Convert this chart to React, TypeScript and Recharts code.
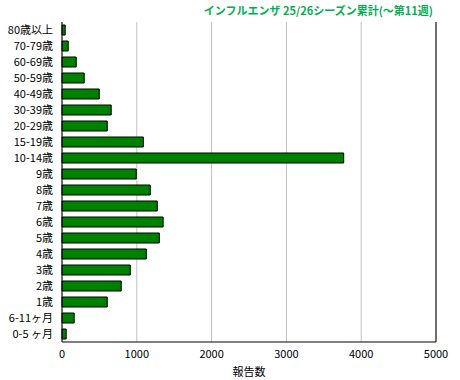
import React from "react";
import { BarChart, Bar, XAxis, YAxis, CartesianGrid, ReferenceLine } from "recharts";

const categories = [
  "80歳以上", "70-79歳", "60-69歳", "50-59歳", "40-49歳", "30-39歳", "20-29歳",
  "15-19歳", "10-14歳", "9歳", "8歳", "7歳", "6歳", "5歳", "4歳", "3歳", "2歳",
  "1歳", "6-11ヶ月", "0-5 ヶ月",
];
const reports = [
  43, 83, 190, 297, 498, 658, 605, 1087, 3766, 993, 1180, 1274, 1352, 1301, 1127,
  913, 792, 605, 163, 56,
];
const xTicks = [0, 1000, 2000, 3000, 4000, 5000];
const title = "インフルエンザ 25/26シーズン累計(〜第11週)";
const xLabel = "報告数";

const data = categories.map((name, i) => ({ name, value: reports[i] }));

const FONT = "'Noto Sans CJK JP', 'Noto Sans', sans-serif";

export default function App() {
  return (
    <div style={{ position: "absolute", left: 0, top: 0, width: 460, height: 380, background: "#fff", fontFamily: FONT }}>
      <div
        style={{
          position: "absolute",
          right: 27,
          top: 2,
          fontSize: 11,
          fontWeight: "bold",
          color: "#00b050",
          whiteSpace: "nowrap",
          lineHeight: "16px",
        }}
      >
        {title}
      </div>
      <BarChart
        width={460}
        height={380}
        data={data}
        layout="vertical"
        margin={{ top: 22, right: 24, bottom: 0, left: 0 }}
        barSize={10}
      >
        <CartesianGrid horizontal={false} vertical={true} stroke="#c0c0c0" />
        <XAxis
          type="number"
          domain={[0, 5000]}
          ticks={xTicks}
          interval={0}
          tickLine={false}
          tickSize={0}
          tickMargin={8}
          axisLine={{ stroke: "#000" }}
          tick={{ fill: "#000", fontSize: 11, fontFamily: FONT }}
          height={38}
          label={{ value: xLabel, position: "insideBottom", offset: 4, fill: "#000", fontSize: 11, fontFamily: FONT }}
        />
        <XAxis
          xAxisId="top"
          orientation="top"
          type="number"
          domain={[0, 5000]}
          tick={false}
          tickLine={false}
          axisLine={{ stroke: "#000" }}
          height={0}
        />
        <YAxis
          type="category"
          dataKey="name"
          width={62}
          interval={0}
          tickLine={false}
          tickSize={0}
          tickMargin={9}
          axisLine={{ stroke: "#000" }}
          tick={{ fill: "#000", fontSize: 11, fontFamily: FONT }}
        />
        <ReferenceLine x={5000} stroke="#000" />
        <Bar dataKey="value" fill="#008000" stroke="#000" strokeWidth={1} isAnimationActive={false} />
      </BarChart>
    </div>
  );
}
